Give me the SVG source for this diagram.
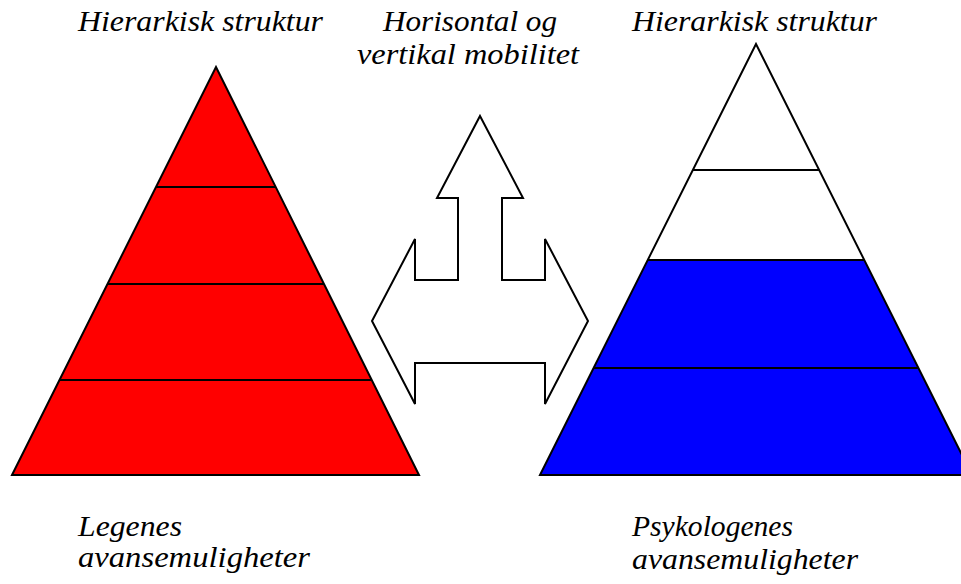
<svg xmlns="http://www.w3.org/2000/svg" width="961" height="584" viewBox="0 0 961 584">
<style>
.t{font-family:"Liberation Serif","Times New Roman",serif;font-style:italic;font-size:30px;fill:#000}
.s{stroke:#000;stroke-width:2;stroke-linejoin:miter}
.l{stroke:#000;stroke-width:2}
</style>
<rect width="961" height="584" fill="#fff"/>
<g id="left-pyramid">
<polygon class="s" points="12,475 216,67 419,475" fill="#ff0000"/>
<line class="l" x1="156" y1="187" x2="276" y2="187"/>
<line class="l" x1="108" y1="284" x2="324" y2="284"/>
<line class="l" x1="60" y1="380" x2="372" y2="380"/>
</g>
<g id="right-pyramid">
<polygon points="648,260 864,260 972,475 540,475" fill="#0000ff"/>
<polygon class="s" points="540,475 756,44 972,475" fill="none"/>
<line class="l" x1="693" y1="170" x2="819" y2="170"/>
<line class="l" x1="648" y1="260" x2="864" y2="260"/>
<line class="l" x1="594" y1="368" x2="918" y2="368"/>
</g>
<g id="arrow">
<path class="s" fill="#fff" d="M480,116 L523,198 L502,198 L502,280 L545,280 L545,239 L588,321 L545,404 L545,363 L415,363 L415,404 L372,321 L415,239 L415,280 L458,280 L458,198 L437,198 Z"/>
</g>
<g id="labels">
<text class="t" x="78" y="31" textLength="245" lengthAdjust="spacingAndGlyphs">Hierarkisk struktur</text>
<text class="t" x="383" y="31" textLength="174" lengthAdjust="spacingAndGlyphs">Horisontal og</text>
<text class="t" x="357" y="64" textLength="222" lengthAdjust="spacingAndGlyphs">vertikal mobilitet</text>
<text class="t" x="632" y="31" textLength="245" lengthAdjust="spacingAndGlyphs">Hierarkisk struktur</text>
<text class="t" x="78" y="536" textLength="104" lengthAdjust="spacingAndGlyphs">Legenes</text>
<text class="t" x="78" y="567" textLength="232" lengthAdjust="spacingAndGlyphs">avansemuligheter</text>
<text class="t" x="632" y="536" textLength="161" lengthAdjust="spacingAndGlyphs">Psykologenes</text>
<text class="t" x="632" y="569" textLength="226" lengthAdjust="spacingAndGlyphs">avansemuligheter</text>
</g>
</svg>
